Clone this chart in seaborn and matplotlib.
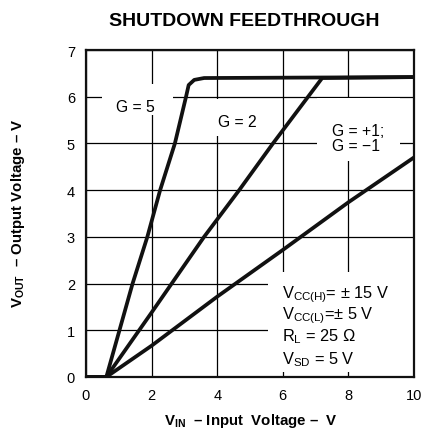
import matplotlib
matplotlib.use("Agg")
import matplotlib.pyplot as plt
import seaborn as sns
import pandas as pd
from matplotlib.patches import Rectangle

# Transfer curves of the amplifier while shut down
vin_g5 = [0.0, 0.62, 1.42, 1.87, 2.26, 2.71, 3.05, 3.13, 3.30, 3.60, 10.0]
vout_g5 = [0.0, 0.0, 2.0, 3.0, 4.0, 5.0, 6.0, 6.25, 6.36, 6.40, 6.42]

vin_g2 = [0.0, 0.62, 2.0, 3.6, 4.67, 5.7, 7.2, 10.0]
vout_g2 = [0.0, 0.0, 1.38, 3.0, 4.0, 5.0, 6.40, 6.42]

vin_g1 = [0.0, 0.62, 2.0, 4.0, 6.0, 8.0, 10.0]
vout_g1 = [0.0, 0.0, 0.67, 1.72, 2.72, 3.74, 4.70]

series_names = ["G = 5", "G = 2", "G = +1;\nG = \u22121"]
x_ticks = [0, 2, 4, 6, 8, 10]
y_ticks = [0, 1, 2, 3, 4, 5, 6, 7]
conditions = [
    r"V$_{\mathrm{CC(H)}}$= $\pm$ 15 V",
    r"V$_{\mathrm{CC(L)}}$=$\pm$ 5 V",
    r"R$_{\mathrm{L}}$ = 25 $\Omega$",
    r"V$_{\mathrm{SD}}$ = 5 V",
]

frames = []
for name, xs, ys in zip(series_names, [vin_g5, vin_g2, vin_g1], [vout_g5, vout_g2, vout_g1]):
    frames.append(pd.DataFrame({"vin": xs, "vout": ys, "gain": name}))
df = pd.concat(frames, ignore_index=True)

sns.set_style("white")
plt.rcParams["font.family"] = ["Liberation Sans", "DejaVu Sans"]
plt.rcParams["text.color"] = "black"
plt.rcParams["xtick.color"] = "black"
plt.rcParams["ytick.color"] = "black"
plt.rcParams["mathtext.fontset"] = "custom"
plt.rcParams["mathtext.rm"] = "Liberation Sans"
plt.rcParams["mathtext.it"] = "Liberation Sans:italic"
plt.rcParams["mathtext.bf"] = "Liberation Sans:bold"

fig = plt.figure(figsize=(4.21, 4.31), dpi=100)
ax = fig.add_axes([86 / 421, 1 - 378 / 431, 328 / 421, 327 / 431])

sns.lineplot(data=df, x="vin", y="vout", hue="gain", units="gain", estimator=None,
             sort=False, palette={n: "#111111" for n in series_names},
             linewidth=2.7, legend=False, ax=ax, zorder=5)
for line in ax.get_lines():
    line.set_solid_capstyle("butt")
    line.set_solid_joinstyle("round")

ax.set_xlim(0, 10)
ax.set_ylim(0, 7)
ax.set_xticks(x_ticks)
ax.set_yticks(y_ticks)
ax.set_xticklabels([str(v) for v in x_ticks], fontsize=10.5)
ax.set_yticklabels([str(v) for v in y_ticks], fontsize=10.5)
ax.tick_params(axis="x", length=0, pad=8)
ax.tick_params(axis="y", length=0, pad=8)
ax.set_axisbelow(True)
ax.grid(True, color="black", linewidth=0.9)
for s in ax.spines.values():
    s.set_color("#111111")
    s.set_linewidth(1.6)
ax.set_xlabel("")
ax.set_ylabel("")

# White panels behind the labels interrupt the grid
boxes = [(0.49, 5.60, 2.16, 0.67), (3.60, 5.15, 2.0, 0.80),
         (7.05, 4.62, 2.52, 1.36), (5.55, 0.11, 4.45, 2.14)]
for bx, by, bw, bh in boxes:
    ax.add_patch(Rectangle((bx, by), bw, bh, facecolor="white", edgecolor="none", zorder=2))

ax.text(1.51, 5.79, series_names[0], fontsize=11.3, ha="center", va="center", zorder=3)
ax.text(4.62, 5.48, series_names[1], fontsize=11.3, ha="center", va="center", zorder=3)
ax.text(7.49, 5.12, series_names[2], fontsize=11.3, ha="left", va="center",
        linespacing=1.0, zorder=3)

for txt, yb in zip(conditions, [1.71, 1.26, 0.78, 0.29]):
    ax.text(5.98, yb, txt, fontsize=11.8, ha="left", va="baseline", zorder=3)

fig.text(0.581, 1 - 21 / 431, "SHUTDOWN FEEDTHROUGH", fontsize=14,
         fontweight="bold", ha="center", va="center")
fig.text(0.597, 1 - 425 / 431, "V$_{\\mathbf{IN}}$  \u2013 Input  Voltage \u2013  V",
         fontsize=10.8, fontweight="bold", ha="center", va="baseline")
fig.text(18 / 421, 0.505, "V$_{\\mathbf{OUT}}$  \u2013 Output Voltage \u2013 V",
         fontsize=10.8, fontweight="bold", ha="center", va="center", rotation=90)

fig.savefig("out.png", dpi=100)
